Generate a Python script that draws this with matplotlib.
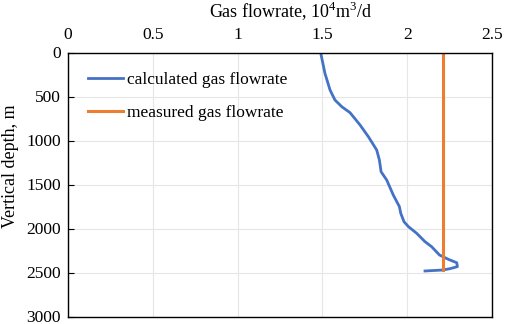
import matplotlib
matplotlib.use("Agg")
import matplotlib.pyplot as plt
import matplotlib.transforms as mtransforms

# calculated gas flowrate (10^4 m3/d) vs vertical depth (m)
calc_rate = [1.49, 1.515, 1.545, 1.574, 1.614, 1.663, 1.722, 1.771, 1.82, 1.836,
             1.846, 1.879, 1.918, 1.954, 1.962, 1.981, 2.007, 2.056, 2.105, 2.144,
             2.19, 2.243, 2.292, 2.296, 2.252, 2.21, 2.105]
calc_depth = [0, 231, 420, 534, 610, 678, 818, 951, 1102, 1216,
              1349, 1443, 1614, 1746, 1822, 1917, 1973, 2049, 2144, 2201,
              2295, 2345, 2383, 2428, 2451, 2466, 2477]

meas_rate = [2.21, 2.21]
meas_depth = [0, 2470]

x_ticks = [0, 0.5, 1, 1.5, 2, 2.5]
x_labels = ["0", "0.5", "1", "1.5", "2", "2.5"]
y_ticks = [0, 500, 1000, 1500, 2000, 2500, 3000]

plt.rcParams['font.family'] = ['Liberation Serif', 'DejaVu Serif']
plt.rcParams['mathtext.fontset'] = 'custom'
plt.rcParams['mathtext.rm'] = 'Liberation Serif'

W, H = 505, 324
fig = plt.figure(figsize=(W/100, H/100), dpi=100)
ax = fig.add_axes([68/W, 1 - 317/H, (492-68)/W, (317-53)/H])

ax.plot(calc_rate, calc_depth, color='#4472C4', lw=2.0, label='calculated gas flowrate')
ax.plot(meas_rate, meas_depth, color='#ED7D31', lw=2.2, label='measured gas flowrate')

ax.set_xlim(0, 2.5)
ax.set_ylim(3000, 0)
ax.set_xticks(x_ticks)
ax.set_xticklabels(x_labels)
ax.set_yticks(y_ticks)
ax.xaxis.tick_top()
ax.tick_params(axis='x', length=0, labelsize=12.5, pad=7)
ax.tick_params(axis='y', direction='in', length=4, labelsize=12.5, pad=5)
shift = mtransforms.ScaledTranslation(0, 1.5/100, fig.dpi_scale_trans)
for lbl in ax.get_yticklabels():
    lbl.set_transform(lbl.get_transform() + shift)
ax.grid(True, color='#E6E6E6', lw=0.8)
ax.set_axisbelow(True)
for s in ax.spines.values():
    s.set_color('black')
    s.set_linewidth(1.0)

fig.text(291/W, 1 - 11/H, 'Gas flowrate, 10$^{4}$m$^{3}$/d', fontsize=13,
         ha='center', va='center')
fig.text(11/W, 1 - 166/H, 'Vertical depth, m', fontsize=13, rotation=90,
         ha='center', va='center')

ax.legend(loc='upper left', frameon=False, fontsize=12.5, handlelength=2.0,
          handletextpad=0.25, labelspacing=0.95, borderpad=0, borderaxespad=0,
          bbox_to_anchor=((88-68)/424, 1 - (72-53)/264))

fig.savefig('out.png', dpi=100)
